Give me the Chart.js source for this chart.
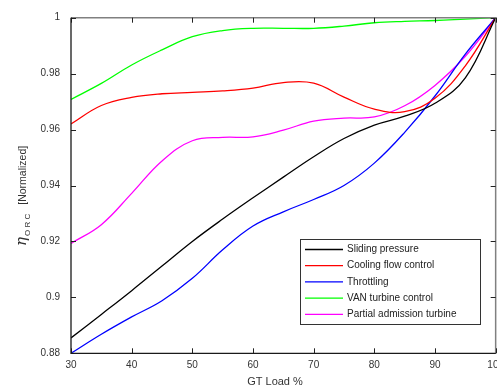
<!DOCTYPE html>
<html>
<head>
<meta charset="utf-8">
<script src="https://cdn.jsdelivr.net/npm/chart.js@4.4.1/dist/chart.umd.min.js"></script>
<style>
  html, body { margin: 0; padding: 0; background: #fff; overflow: hidden; }
  #wrap { position: absolute; left: 0; top: 0; width: 510px; height: 388px; }
</style>
</head>
<body>
<div id="wrap"><canvas id="orcChart"></canvas></div>
<script>
// GT load (%) and normalised ORC efficiency for each control strategy
const gtLoad = [30, 35, 40, 45, 50, 55, 60, 65, 70, 75, 80, 85, 90, 95, 100];
const slidingPressure = [0.8855, 0.8939, 0.9024, 0.9112, 0.9200, 0.9280, 0.9356, 0.9430, 0.9503, 0.9568, 0.9616, 0.9648, 0.9694, 0.9785, 1.0];
const coolingFlow = [0.9620, 0.9686, 0.9715, 0.9728, 0.9733, 0.9738, 0.9748, 0.9768, 0.9766, 0.9716, 0.9673, 0.9664, 0.9712, 0.9828, 1.0];
const throttling = [0.8800, 0.8868, 0.8930, 0.8988, 0.9068, 0.9170, 0.9255, 0.9306, 0.9350, 0.9400, 0.9480, 0.9590, 0.9720, 0.9870, 1.0];
const vanTurbine = [0.9708, 0.9765, 0.9831, 0.9885, 0.9932, 0.9954, 0.9962, 0.9962, 0.9962, 0.9970, 0.9982, 0.9987, 0.9990, 0.9995, 1.0];
const partialAdmission = [0.9193, 0.9260, 0.9372, 0.9488, 0.9560, 0.9572, 0.9574, 0.9598, 0.9630, 0.9641, 0.9645, 0.9685, 0.9758, 0.9862, 1.0];

const seriesNames = ['Sliding pressure', 'Cooling flow control', 'Throttling', 'VAN turbine control', 'Partial admission turbine'];
const seriesValues = [slidingPressure, coolingFlow, throttling, vanTurbine, partialAdmission];
const seriesColors = ['#000000', '#ff0000', '#0000ff', '#00ff00', '#ff00ff'];

const xTicks = [30, 40, 50, 60, 70, 80, 90, 100];
const yTicks = [0.88, 0.9, 0.92, 0.94, 0.96, 0.98, 1];

const FONT = '"Liberation Sans", Arial, Helvetica, sans-serif';

// box, inward tick marks, legend and axis titles
const decorations = {
    id: 'decorations',
    afterDraw(chart) {
        const ctx = chart.ctx;
        const a = chart.chartArea;
        const xs = chart.scales.x;
        const ys = chart.scales.y;
        const tl = 5;

        ctx.save();
        // top and right sides of the box
        ctx.strokeStyle = '#808080';
        ctx.lineWidth = 1.5;
        ctx.beginPath();
        ctx.moveTo(a.left, a.top);
        ctx.lineTo(a.right, a.top);
        ctx.lineTo(a.right, a.bottom);
        ctx.stroke();

        // ticks
        ctx.strokeStyle = '#222';
        ctx.lineWidth = 1;
        ctx.beginPath();
        xTicks.forEach(function(v) {
            const px = Math.round(xs.getPixelForValue(v)) + 0.5;
            ctx.moveTo(px, a.bottom); ctx.lineTo(px, a.bottom - tl);
            ctx.moveTo(px, a.top); ctx.lineTo(px, a.top + tl);
        });
        yTicks.forEach(function(v) {
            const py = Math.round(ys.getPixelForValue(v)) + 0.5;
            ctx.moveTo(a.left, py); ctx.lineTo(a.left + tl, py);
            ctx.moveTo(a.right, py); ctx.lineTo(a.right - tl, py);
        });
        ctx.stroke();

        // left and bottom axis lines
        ctx.strokeStyle = '#1a1a1a';
        ctx.lineWidth = 1.3;
        ctx.beginPath();
        ctx.moveTo(a.left, a.top);
        ctx.lineTo(a.left, a.bottom);
        ctx.lineTo(a.right, a.bottom);
        ctx.stroke();

        // legend
        const lx = 300.5, ly = 239.5, lw = 180, lh = 85;
        ctx.fillStyle = '#fff';
        ctx.fillRect(lx, ly, lw, lh);
        ctx.strokeStyle = '#333';
        ctx.lineWidth = 1;
        ctx.strokeRect(lx, ly, lw, lh);
        ctx.font = '10px ' + FONT;
        ctx.textBaseline = 'middle';
        ctx.textAlign = 'left';
        chart.data.datasets.forEach(function(ds, i) {
            const y = 249.5 + i * 16.2;
            ctx.strokeStyle = ds.borderColor;
            ctx.lineWidth = 1.3;
            ctx.beginPath();
            ctx.moveTo(305, y);
            ctx.lineTo(343, y);
            ctx.stroke();
            ctx.fillStyle = '#222';
            ctx.fillText(ds.label, 347, y);
        });

        // x title
        ctx.fillStyle = '#333';
        ctx.font = '11px ' + FONT;
        ctx.textAlign = 'center';
        ctx.textBaseline = 'middle';
        ctx.fillText('GT Load %', 275, 382);

        // y title: eta with O R C subscript, then [Normalized]
        ctx.translate(26, 246);
        ctx.rotate(-Math.PI / 2);
        ctx.textAlign = 'left';
        ctx.textBaseline = 'alphabetic';
        ctx.font = 'italic 15px "DejaVu Serif", serif';
        ctx.fillText('η', 0, 0);
        let w = ctx.measureText('η').width;
        ctx.font = '8px ' + FONT;
        ctx.fillText('O R C', w + 1, 4);
        w += 1 + ctx.measureText('O R C').width;
        ctx.font = '10.5px ' + FONT;
        ctx.fillText('[Normalized]', w + 9, 0);
        ctx.restore();
    }
};

const datasets = seriesNames.map(function(name, i) {
    return {
        label: name,
        data: seriesValues[i],
        borderColor: seriesColors[i],
        backgroundColor: seriesColors[i],
        borderWidth: 1.3,
        pointRadius: 0,
        tension: 0.4,
        fill: false
    };
});

new Chart(document.getElementById('orcChart'), {
    type: 'line',
    data: { labels: gtLoad, datasets: datasets },
    options: {
        responsive: true,
        maintainAspectRatio: false,
        animation: false,
        layout: { padding: { top: 17.7, right: 13, bottom: 0, left: 0 } },
        plugins: {
            legend: { display: false },
            tooltip: { enabled: false }
        },
        scales: {
            x: {
                type: 'linear',
                min: 30,
                max: 100,
                grid: { display: false, drawTicks: false },
                border: { display: false },
                afterBuildTicks: function(scale) {
                    scale.ticks = xTicks.map(function(v) { return { value: v }; });
                },
                afterFit: function(scale) { scale.height = 34.7; },
                ticks: {
                    padding: 6,
                    color: '#333',
                    maxRotation: 0,
                    autoSkip: false,
                    font: { family: FONT, size: 10 }
                }
            },
            y: {
                min: 0.88,
                max: 1,
                grid: { display: false, drawTicks: false },
                border: { display: false },
                afterBuildTicks: function(scale) {
                    scale.ticks = yTicks.map(function(v) { return { value: v }; });
                },
                afterFit: function(scale) { scale.width = 71; },
                ticks: {
                    padding: 11,
                    color: '#333',
                    font: { family: FONT, size: 10 },
                    callback: function(v) { return String(+v.toFixed(2)); }
                }
            }
        }
    },
    plugins: [decorations]
});
</script>
</body>
</html>
